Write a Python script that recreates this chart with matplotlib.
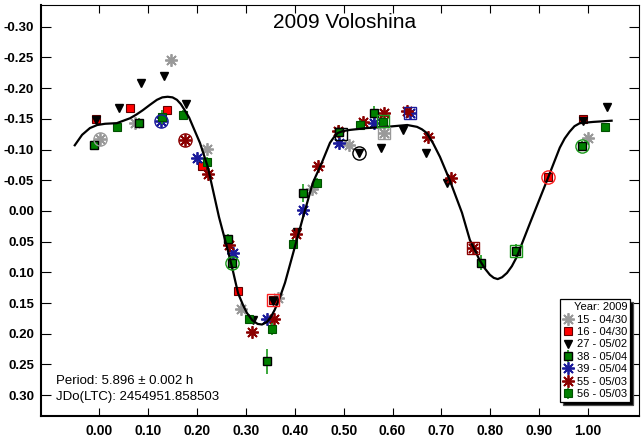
import matplotlib
matplotlib.use("Agg")
import matplotlib.pyplot as plt

plt.rcParams['font.family'] = ['Liberation Sans', 'DejaVu Sans']

# ---------------------------
# Folded light-curve data (phase, relative mag)
# ---------------------------
phase_15 = [0.001, 0.073, 0.146, 0.220, 0.291, 0.366, 0.436, 0.511, 0.583, 1.000]
mag_15 = [-0.118, -0.143, -0.246, -0.101, 0.160, 0.142, -0.036, -0.107, -0.127, -0.119]

phase_16 = [-0.007, 0.064, 0.138, 0.210, 0.283, 0.356, 0.917, 0.989]
mag_16 = [-0.149, -0.168, -0.164, -0.073, 0.131, 0.145, -0.056, -0.150]

phase_27 = [-0.007, 0.040, 0.085, 0.132, 0.177, 0.314, 0.356, 0.404, 0.531,
            0.576, 0.622, 0.668, 0.712, 0.989, 1.038]
mag_27 = [-0.148, -0.168, -0.209, -0.220, -0.175, 0.178, 0.147, 0.034, -0.094,
          -0.102, -0.132, -0.095, -0.045, -0.147, -0.169]

phase_38 = [-0.010, 0.081, 0.264, 0.271, 0.344, 0.417, 0.491, 0.563, 0.781, 0.852, 0.988]
mag_38 = [-0.107, -0.143, 0.045, 0.085, 0.245, -0.029, -0.128, -0.159, 0.084, 0.066, -0.106]
err_38 = [0.008, 0.008, 0.008, 0.012, 0.020, 0.015, 0.012, 0.012, 0.012, 0.012, 0.008]

phase_39 = [0.126, 0.201, 0.273, 0.344, 0.417, 0.491, 0.563, 0.635]
mag_39 = [-0.147, -0.087, 0.068, 0.176, -0.002, -0.110, -0.144, -0.159]

phase_55 = [0.176, 0.223, 0.266, 0.313, 0.357, 0.402, 0.448, 0.488, 0.539,
            0.583, 0.630, 0.673, 0.719, 0.764]
mag_55 = [-0.115, -0.060, 0.055, 0.198, 0.176, 0.037, -0.073, -0.130, -0.145,
          -0.159, -0.162, -0.121, -0.053, 0.061]

phase_56 = [0.036, 0.128, 0.172, 0.220, 0.307, 0.354, 0.397, 0.446, 0.533, 0.581, 1.034]
mag_56 = [-0.136, -0.153, -0.156, -0.080, 0.176, 0.192, 0.054, -0.046, -0.140, -0.145, -0.136]
err_56 = [0.008, 0.012, 0.008, 0.008, 0.008, 0.010, 0.008, 0.008, 0.008, 0.008, 0.008]

# first / last point of each session
ring_phase = [0.001, 0.126, 0.176, 0.271, 0.531, 0.917, 0.988]
ring_mag = [-0.118, -0.147, -0.115, 0.085, -0.094, -0.056, -0.106]
ring_color = ['#999999', '#1a1a9a', '#8b0000', '#1a9a1a', 'black', '#ff2020', '#1a9a1a']

box_phase = [0.356, 0.494, 0.583, 0.581, 0.635, 0.764, 0.852]
box_mag = [0.145, -0.126, -0.127, -0.147, -0.159, 0.061, 0.066]
box_color = ['#ff2020', 'black', '#999999', '#1a9a1a', '#1a1a9a', '#8b0000', '#1a9a1a']

# Fourier fit curve
fit_phase = [-0.050, -0.035, -0.019, -0.004, 0.012, 0.036, 0.063, 0.076, 0.089, 0.104,
             0.118, 0.129, 0.140, 0.150, 0.159, 0.167, 0.175, 0.184, 0.192, 0.206,
             0.222, 0.245, 0.263, 0.273, 0.284, 0.294, 0.302, 0.313, 0.324, 0.333,
             0.343, 0.351, 0.359, 0.369, 0.380, 0.400, 0.417, 0.437, 0.455, 0.472,
             0.480, 0.488, 0.498, 0.513, 0.547, 0.588, 0.630, 0.650, 0.660, 0.670,
             0.683, 0.697, 0.717, 0.742, 0.758, 0.778, 0.789, 0.799, 0.807, 0.815,
             0.824, 0.834, 0.844, 0.854, 0.881, 0.916, 0.942, 0.952, 0.962, 0.972,
             0.983, 1.010, 1.048]
fit_mag = [-0.107, -0.124, -0.135, -0.140, -0.142, -0.143, -0.151, -0.157, -0.164, -0.173,
           -0.181, -0.185, -0.186, -0.185, -0.181, -0.174, -0.164, -0.152, -0.137, -0.111,
           -0.072, 0.010, 0.064, 0.096, 0.134, 0.153, 0.166, 0.178, 0.184, 0.185,
           0.181, 0.173, 0.161, 0.142, 0.117, 0.059, 0.010, -0.046, -0.078, -0.111,
           -0.120, -0.127, -0.130, -0.132, -0.135, -0.137, -0.140, -0.137, -0.133, -0.127,
           -0.110, -0.088, -0.050, 0.003, 0.047, 0.080, 0.094, 0.104, 0.109, 0.111,
           0.108, 0.101, 0.090, 0.075, 0.020, -0.050, -0.103, -0.118, -0.129, -0.138,
           -0.143, -0.145, -0.147]

x_ticks = [0.0, 0.1, 0.2, 0.3, 0.4, 0.5, 0.6, 0.7, 0.8, 0.9, 1.0]
y_ticks = [-0.30, -0.25, -0.20, -0.15, -0.10, -0.05, 0.0, 0.05, 0.10, 0.15, 0.20, 0.25, 0.30]

star = (8, 2, 0)

fig = plt.figure(figsize=(6.42, 4.45), dpi=100)
ax = fig.add_axes([0.0639, 0.0652, 0.9314, 0.9236])

# Sessions
h15, = ax.plot(phase_15, mag_15, ls='none', marker=star, ms=9, mew=1.3,
               color='#999999', label='15 - 04/30', zorder=2)
h16, = ax.plot(phase_16, mag_16, ls='none', marker='s', ms=5.5, mew=0.8,
               mfc='#ff0000', mec='#600000', label='16 - 04/30', zorder=2)
h27, = ax.plot(phase_27, mag_27, ls='none', marker='v', ms=6, color='black',
               label='27 - 05/02', zorder=2)
h38 = ax.errorbar(phase_38, mag_38, yerr=err_38, ls='none', marker='s', ms=6, mew=1.0,
                  mfc='#008000', mec='black', ecolor='#1a9a1a', elinewidth=1.2,
                  label='38 - 05/04', zorder=2)
h39, = ax.plot(phase_39, mag_39, ls='none', marker=star, ms=9, mew=1.3,
               color='#1a1a9a', label='39 - 05/04', zorder=2)
h55, = ax.plot(phase_55, mag_55, ls='none', marker=star, ms=9, mew=1.3,
               color='#8b0000', label='55 - 05/03', zorder=2)
h56 = ax.errorbar(phase_56, mag_56, yerr=err_56, ls='none', marker='s', ms=5.5, mew=0.8,
                  mfc='#008000', mec='#005000', ecolor='#1a9a1a', elinewidth=1.2,
                  label='56 - 05/03', zorder=2)

# Session start rings and end boxes
for px, py, c in zip(ring_phase, ring_mag, ring_color):
    ax.plot(px, py, ls='none', marker='o', ms=9.5, mfc='none', mec=c, mew=1.0, zorder=4)
for px, py, c in zip(box_phase, box_mag, box_color):
    ax.plot(px, py, ls='none', marker='s', ms=9, mfc='none', mec=c, mew=1.0, zorder=4)

# Fit
ax.plot(fit_phase, fit_mag, color='black', lw=1.6, zorder=3)

ax.set_xlim(-0.119, 1.104)
ax.set_ylim(0.334, -0.3355)
ax.set_xticks(x_ticks)
ax.set_yticks(y_ticks)
ax.set_xticklabels([f"{v:.2f}" for v in x_ticks], fontsize=10, fontweight='bold')
ax.set_yticklabels([f"{v:.2f}" for v in y_ticks], fontsize=9.5, fontweight='bold')
ax.tick_params(axis='x', direction='in', length=6, top=True, width=0.8, pad=6)
ax.tick_params(axis='y', direction='in', length=7, right=True, width=0.8, pad=5)

for side in ['left', 'bottom']:
    ax.spines[side].set_linewidth(1.5)
for side in ['top', 'right']:
    ax.spines[side].set_linewidth(0.8)

ax.text(0.507, 0.958, "2009 Voloshina", transform=ax.transAxes,
        ha='center', va='center', fontsize=15)
ax.text(0.025, 0.085, "Period: 5.896 \u00b1 0.002 h", transform=ax.transAxes,
        ha='left', va='center', fontsize=9.5)
ax.text(0.025, 0.047, "JDo(LTC): 2454951.858503", transform=ax.transAxes,
        ha='left', va='center', fontsize=9.5)

handles = [h15, h16, h27, h38, h39, h55, h56]
leg = ax.legend(handles=handles, loc='lower right', bbox_to_anchor=(0.985, 0.034),
                borderaxespad=0, title='Year: 2009', title_fontsize=8, fontsize=8,
                alignment='right', fancybox=False, framealpha=1, edgecolor='black',
                shadow={'facecolor': 'black', 'alpha': 1.0, 'ox': 2, 'oy': -2},
                handlelength=0.9, handletextpad=0.4, labelspacing=0.22,
                borderpad=0.25, numpoints=1)
leg.get_frame().set_linewidth(0.9)

fig.savefig("out.png", dpi=100)
